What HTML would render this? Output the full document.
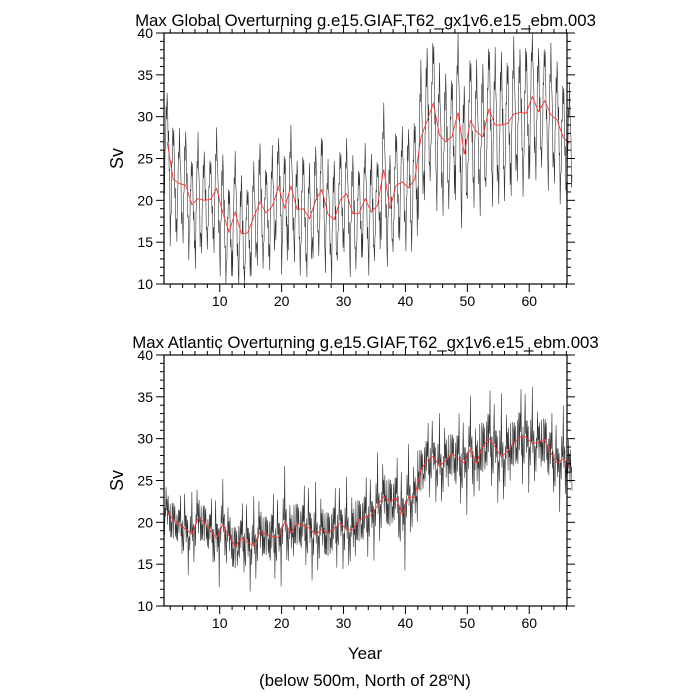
<!DOCTYPE html>
<html><head><meta charset="utf-8"><style>
body{margin:0;background:#fff}
svg{display:block;font-family:"Liberation Sans",Arial,sans-serif}
</style></head><body>
<svg id="chart" width="700" height="700" viewBox="0 0 700 700"></svg>
<script>
// Annual means (red), years 1..66
const globalMean=[27,22.5,22,21.8,19.5,20.2,20,20.1,21.4,18.5,16.2,18.6,16,16.1,18,19.8,18.5,19.3,21.6,19.1,21.7,18.9,19,17.8,20,21.3,18.3,17.7,20.1,20.8,18.4,18.4,20.2,18.6,19.4,23.7,19,21.8,22.2,21.5,22.5,27.5,29.5,31.6,27.8,27,27.6,30.5,25.5,29.5,28.2,27.6,30.9,29,29,29.2,30.3,30.5,30.4,32.4,30.6,31.9,30.2,29.6,27.5,26.8];
const atlMean=[21.3,20.3,19.7,19.2,18.6,20.5,20,19,18.1,19.7,18.4,17.1,18.1,17.6,17.2,18.9,18.5,18.3,18.2,20,18.7,19.9,19.6,19.3,18.5,19.2,18.7,19.3,19.9,19.1,19.1,20.3,20.6,20.9,22,23.1,22.5,22.9,20.9,23,23,26.3,27.4,27.9,26.7,27.4,28.2,27.6,27.1,28.8,27.1,29.1,30,29,27.8,28.5,29.5,30.2,30.2,29.4,29.6,29.9,28.3,27.1,27.6,26.5];
// Seasonal amplitude per year (Sv)
const globalAmp=[5,6,5,5.5,5,6,5,4.5,5.5,6,5,5.5,6,5,5,6,5,5.5,5,6,5.5,5,6,5,5.5,6,5,6,5.5,5,6,5,5,6,5,6,5.5,6,5,6,6.5,7,7.5,7,6.5,7,6.5,7.5,7,7,6.5,7.5,7,7,7.5,7,7,6.5,7.5,7,6.5,6,6.5,6,6,5.5];
const atlAmp=[1.2,1.3,1.1,1.4,1.2,1.4,1.3,1.2,1.5,1.3,1.4,1.5,1.3,1.5,1.4,1.5,1.4,1.6,1.5,1.6,1.4,1.5,1.5,1.6,1.5,1.5,1.6,1.5,1.4,1.5,1.6,1.5,1.5,1.4,1.5,1.6,1.7,1.5,1.7,1.5,1.5,1.5,1.4,1.4,1.5,1.6,1.5,1.7,1.6,1.5,1.7,1.8,1.8,1.7,1.8,1.8,1.6,1.8,1.7,1.6,1.5,1.6,1.5,1.5,1.5,1.4];
const seasonShape=[-0.9,-1,-0.6,0,0.55,0.9,1,0.75,0.3,-0.2,-0.6,-0.85];
const globalResid=[0.3,-0.8,1.2,-0.4,0.9,-1.1,0.5,0.2,-0.9,1.4,-0.3,0.6,-1.3,0.8,-0.2,1.1,-0.7,0.4,-1,0.7,0.1,-0.5,1.3,-0.6,0.2,-1.2,0.9,-0.1,0.6,-0.9,1,-0.4,0.3,0.8,-1.1,0.5];
const atlResid=[0.4,-1.6,1.1,-0.6,2.2,-0.9,0.3,-2.4,1.5,-0.2,0.8,-1.3,2.8,-0.7,0.5,-1.9,1.2,0.1,-3.2,0.9,-0.4,1.7,-1.1,0.6,-0.8,2.5,-1.4,0.2,1.3,-2.1,0.7,-0.5,3.4,-1.2,0.9,-2.7,1.9,-0.3,-1.5,0.6,2.9,-0.8,0.2,-2.2,1.0,-0.6,1.6,-3.6,0.5,0.9,-1.2,2.1,-0.4,-0.9,3.8,-1.7,0.3,1.4,-2.6,0.8];
const yTicks=[10,15,20,25,30,35,40];
const xTicks=[10,20,30,40,50,60];
const panels=[
 {name:'global',title:'Max Global Overturning g.e15.GIAF.T62_gx1v6.e15_ebm.003',top:33,mean:globalMean,amp:globalAmp,resid:globalResid,rf:0.33},
 {name:'atlantic',title:'Max Atlantic Overturning g.e15.GIAF.T62_gx1v6.e15_ebm.003',top:355,mean:atlMean,amp:atlAmp,resid:atlResid,rf:0.85}
];
const NS='http://www.w3.org/2000/svg';
const svg=document.getElementById('chart');
const L=164,R=567,H=251;
const xs=v=>L+(v-1)/65.1*(R-L);
function mk(tag,attrs,parent){const e=document.createElementNS(NS,tag);for(const k in attrs)e.setAttribute(k,attrs[k]);(parent||svg).appendChild(e);return e;}
panels.forEach(p=>{
 const g=mk('g',{});
 
 
 const ys=v=>p.top+H-(v-10)/30*H;
 const B=p.top+H;
 let d='';
 for(let y=0;y<p.mean.length;y++)for(let m=0;m<12;m++){
  const i=y*12+m;
  const v=p.mean[y]+p.amp[y]*seasonShape[m]+p.resid[i%p.resid.length]*p.amp[y]*p.rf;
  const vv=Math.max(10,Math.min(40,v));
  d+=(i?'L':'M')+xs(1+i/12).toFixed(2)+','+ys(vv).toFixed(2);
 }
 const bl=mk('path',{d:d,fill:'none',stroke:'#333','stroke-width':0.6},g);
 
 
 let rd='';
 p.mean.forEach((v,i)=>{rd+=(i?'L':'M')+xs(i+1.5).toFixed(2)+','+ys(v).toFixed(2);});
 const rl=mk('path',{d:rd,fill:'none',stroke:'#f33','stroke-width':0.9},g);
 
 
 const fr=mk('rect',{x:L,y:p.top,width:R-L,height:H,fill:'none',stroke:'#000','stroke-width':1.2},g);
 
 
 for(let v=10;v<=40;v++){
  const len=v%5===0?8:4;
  mk('line',{x1:L-len,x2:L,y1:ys(v),y2:ys(v),stroke:'#000','stroke-width':1},g);
  mk('line',{x1:R,x2:R+len,y1:ys(v),y2:ys(v),stroke:'#000','stroke-width':1},g);
 }
 yTicks.forEach(v=>{const t=mk('text',{x:L-11,y:ys(v)+5,'text-anchor':'end','font-size':14},g);t.textContent=v;
  });
 for(let v=2;v<=66;v+=2){
  const len=v%10===0?8:4;
  mk('line',{x1:xs(v),x2:xs(v),y1:B,y2:B+len,stroke:'#000','stroke-width':1},g);
  mk('line',{x1:xs(v),x2:xs(v),y1:p.top-len,y2:p.top,stroke:'#000','stroke-width':1},g);
 }
 xTicks.forEach(v=>{const t=mk('text',{x:xs(v),y:B+22,'text-anchor':'middle','font-size':14},g);t.textContent=v;
  });
 const ti=mk('text',{x:(L+R)/2,y:p.top-7,'text-anchor':'middle','font-size':16.8},g);ti.textContent=p.title;
 
 const yl=mk('text',{x:0,y:0,'text-anchor':'middle','font-size':18,transform:`translate(123,${p.top+H/2}) rotate(-90)`},g);yl.textContent='Sv';
 
});
const xt=mk('text',{x:365,y:659,'text-anchor':'middle','font-size':17});xt.textContent='Year';

const fn=mk('text',{x:365,y:686,'text-anchor':'middle','font-size':16.8});

fn.innerHTML='(below 500m, North of 28<tspan dy="-6" font-size="10">o</tspan><tspan dy="6">N)</tspan>';
</script>
</body></html>
